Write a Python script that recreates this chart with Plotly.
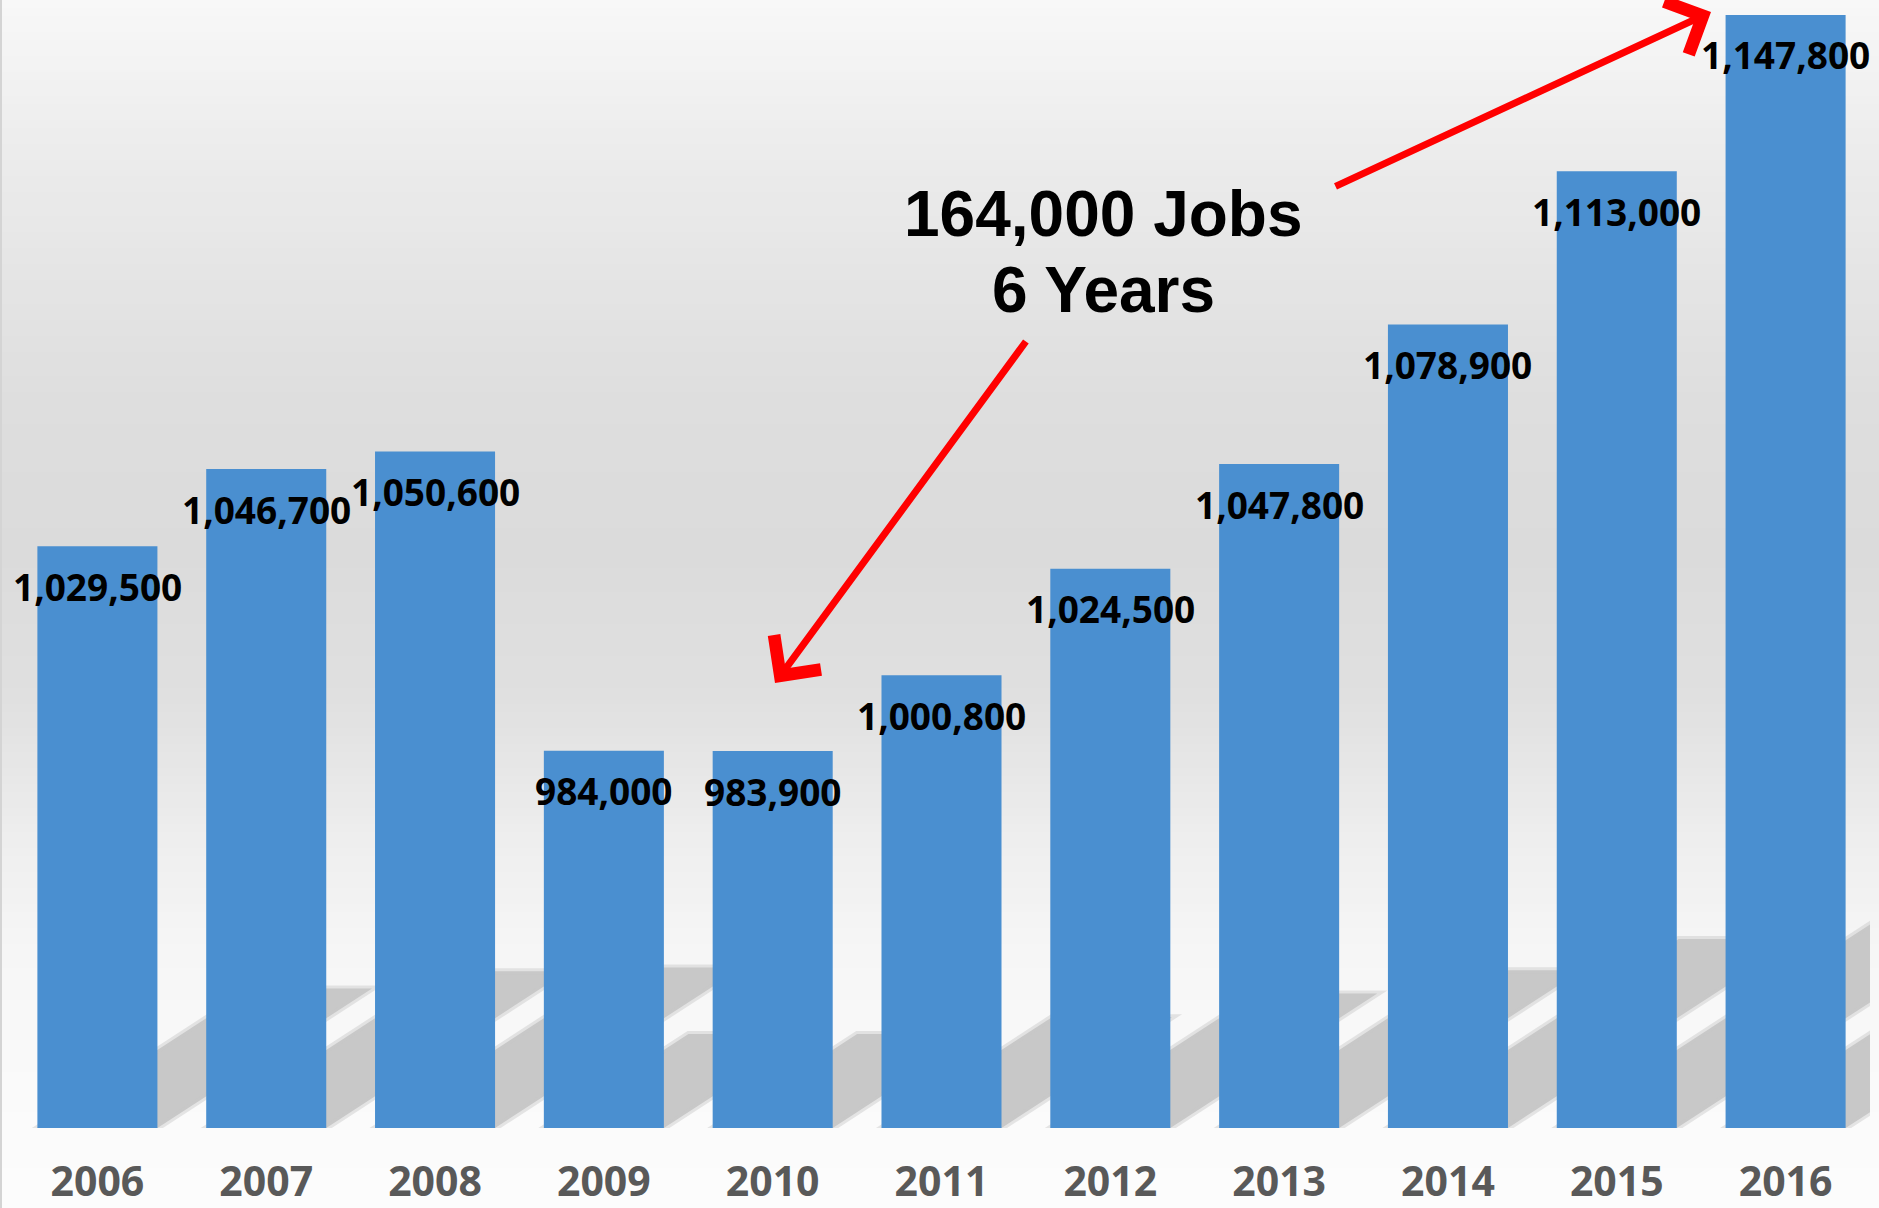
import plotly.graph_objects as go

# ---- data ----
years = ["2006", "2007", "2008", "2009", "2010", "2011",
         "2012", "2013", "2014", "2015", "2016"]
jobs = [1029500, 1046700, 1050600, 984000, 983900, 1000800,
        1024500, 1047800, 1078900, 1113000, 1147800]
value_labels = [f"{v:,}" for v in jobs]
callout_lines = ["164,000 Jobs", "6 Years"]

W, H = 1879, 1208
M_L, M_R, M_T, M_B = 13, 9, 5, 80
PH = H - M_T - M_B
PW = W - M_L - M_R
Y_MIN, Y_MAX = 900000, 1150000
BARGAP = 0.289


def py_to_paper(py):
    return (H - M_B - py) / PH


def px_to_paper(px):
    return (px - M_L) / PW


fig = go.Figure()
fig.add_trace(go.Bar(
    x=years, y=jobs,
    marker=dict(color="#4a8fd0", line=dict(width=0)),
    hoverinfo="skip",
))

# ---- background gradient (styling) ----
stops = [(0, 248), (150, 236), (400, 222), (550, 219), (700, 224),
         (850, 239), (950, 246), (1130, 251), (1208, 252)]


def grey_at(y):
    for (y0, c0), (y1, c1) in zip(stops[:-1], stops[1:]):
        if y0 <= y <= y1:
            t = (y - y0) / (y1 - y0)
            return round(c0 + (c1 - c0) * t)
    return stops[-1][1]


shapes = []
step = 8
for y in range(0, H, step):
    g = grey_at(y + step / 2)
    shapes.append(dict(
        type="rect", xref="paper", yref="paper", layer="below",
        x0=px_to_paper(0), x1=px_to_paper(W),
        y0=py_to_paper(y + step), y1=py_to_paper(y),
        fillcolor=f"rgb({g},{g},{g})", line=dict(width=0),
    ))

# ---- cast shadows behind the bars (decoration derived from each bar) ----
units_per_px = (Y_MAX - Y_MIN) / PH
cat_px = PW / len(years)
half = (1 - BARGAP) / 2
slope = 0.65
for i, v in enumerate(jobs):
    h_px = (v - 890000) / 1000.0
    top = Y_MIN + h_px * units_per_px
    dx = h_px / slope / cat_px
    path = (f"M {i - half},{Y_MIN} L {i + half},{Y_MIN} "
            f"L {i + half + dx},{top} L {i - half + dx},{top} Z")
    shapes.append(dict(
        type="path", xref="x", yref="y", layer="below", path=path,
        fillcolor="#c8c8c8", line=dict(color="rgba(200,200,200,0.45)", width=6),
    ))

shapes.append(dict(
    type="line", xref="paper", yref="paper", layer="above",
    x0=px_to_paper(1), x1=px_to_paper(1), y0=py_to_paper(H), y1=py_to_paper(0),
    line=dict(color="#d4d4d4", width=2),
))

annotations = []
for i, (v, lab) in enumerate(zip(jobs, value_labels)):
    annotations.append(dict(
        x=i, y=v, xref="x", yref="y", text=f"<b>{lab}</b>",
        showarrow=False, xanchor="center", yanchor="middle", yshift=-40,
        font=dict(family="Open Sans", size=37, color="#000000"),
    ))

# callout, one annotation per line for tighter line spacing
for line, cy in zip(callout_lines, [214, 290]):
    annotations.append(dict(
        x=px_to_paper(1103), y=py_to_paper(cy), xref="paper", yref="paper",
        text=f"<b>{line}</b>",
        showarrow=False, xanchor="center", yanchor="middle", align="center",
        font=dict(family="Liberation Sans, Arial, sans-serif", size=64, color="#000000"),
    ))

# arrows
for hx, hy, tx, ty in [(775, 683, 1027, 340), (1711, 12, 1334, 187)]:
    annotations.append(dict(
        x=px_to_paper(hx), y=py_to_paper(hy), xref="paper", yref="paper",
        ax=tx - hx, ay=ty - hy, axref="pixel", ayref="pixel",
        text="", showarrow=True, arrowhead=4, arrowsize=1.6,
        arrowwidth=7, arrowcolor="#ff0000", standoff=0, startstandoff=0,
    ))

fig.update_layout(
    width=W, height=H,
    margin=dict(l=M_L, r=M_R, t=M_T, b=M_B, autoexpand=False),
    paper_bgcolor="#ffffff",
    plot_bgcolor="rgba(0,0,0,0)",
    bargap=BARGAP,
    showlegend=False,
    shapes=shapes,
    annotations=annotations,
    xaxis=dict(
        type="category", range=[-0.5, len(years) - 0.5], automargin=False,
        showgrid=False, zeroline=False, showline=False,
        ticks="", ticklabelstandoff=26,
        tickfont=dict(family="Open Sans", size=41, color="#595959", weight="bold"),
    ),
    yaxis=dict(range=[Y_MIN, Y_MAX], visible=False, showgrid=False,
               automargin=False),
)

fig.write_html("out.html", config={"displayModeBar": False},
               post_script="document.body.style.margin='0';")
